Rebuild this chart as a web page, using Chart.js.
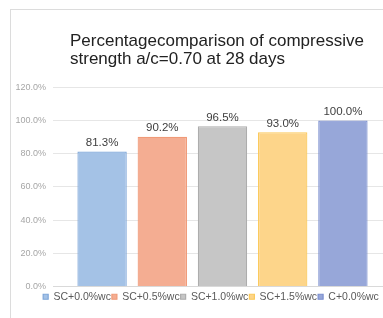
<!DOCTYPE html>
<html>
<head>
<meta charset="utf-8">
<script src="https://cdn.jsdelivr.net/npm/chart.js@4.4.1/dist/chart.umd.min.js"></script>
<style>
  html, body { margin: 0; padding: 0; background: #fff; overflow: hidden; }
  #wrap { position: relative; width: 392px; height: 318px; }
  #frame { position: absolute; left: 10px; top: 9px; right: 0; bottom: 0;
           border-top: 1px solid #dcdcdc; border-left: 1px solid #dcdcdc; }
  canvas { position: absolute; left: 0; top: 0; }
</style>
</head>
<body>
<div id="wrap">
  <div id="frame"></div>
  <canvas id="chart" width="392" height="318"></canvas>
</div>
<script>
// chart data
const seriesNames = ["SC+0.0%wc", "SC+0.5%wc", "SC+1.0%wc", "SC+1.5%wc", "C+0.0%wc"];
const seriesValues = [81.3, 90.2, 96.5, 93.0, 100.0];
const fillColors = ["#a4c2e6", "#f4ad92", "#c6c6c6", "#fdd58a", "#97a7d9"];
const edgeColors = ["#7ea6d9", "#f09a78", "#adadad", "#fbc95a", "#7b8fcf"];
const titleLines = ["Percentagecomparison of compressive", "strength a/c=0.70 at 28 days"];

// value labels above each bar
const barLabels = {
    id: "barLabels",
    afterDatasetsDraw(chart) {
        const ctx = chart.ctx;
        ctx.save();
        ctx.font = "11.5px 'Liberation Sans', Arial, sans-serif";
        ctx.fillStyle = "#404040";
        ctx.textAlign = "center";
        ctx.textBaseline = "bottom";
        chart.data.datasets.forEach((ds, i) => {
            const bar = chart.getDatasetMeta(i).data[0];
            ctx.fillText(ds.data[0].toFixed(1) + "%", bar.x, bar.y - 3);
        });
        ctx.restore();
    }
};

// title starts at x=70, legend sits a bit right of the canvas centre (excel layout)
const shiftBoxes = {
    id: "shiftBoxes",
    afterLayout(chart) {
        const t = chart.titleBlock, l = chart.legend;
        if (t) { t.left = 70; }
        if (l) { l.left += 15; l.right += 15; }
    }
};

const ctx = document.getElementById("chart").getContext("2d");

new Chart(ctx, {
    type: "bar",
    data: {
        labels: [""],
        datasets: seriesNames.map((name, i) => ({
            label: name,
            data: [seriesValues[i]],
            backgroundColor: fillColors[i],
            borderColor: edgeColors[i],
            borderWidth: 1.2
        }))
    },
    options: {
        responsive: false,
        animation: false,
        layout: { padding: { left: 0, right: 0, top: 32, bottom: 6 } },
        datasets: { bar: { categoryPercentage: 0.888, barPercentage: 0.82 } },
        plugins: {
            title: {
                display: true,
                align: "start",
                text: titleLines,
                color: "#222",
                font: { family: "'Liberation Sans', Arial, sans-serif", size: 17, weight: "normal", lineHeight: 1.07 },
                padding: { top: 0, bottom: 19 }
            },
            legend: {
                position: "bottom",
                labels: {
                    boxWidth: 5,
                    boxHeight: 5,
                    padding: 1,
                    color: "#595959",
                    font: { family: "'Liberation Sans', Arial, sans-serif", size: 10.5 }
                }
            },
            tooltip: { enabled: false }
        },
        scales: {
            x: {
                afterFit(scale) { scale.height = 4; },
                grid: { display: false, drawTicks: false },
                border: { color: "#d9d9d9" },
                ticks: { display: false }
            },
            y: {
                min: 0,
                max: 120,
                afterFit(scale) { scale.width = 53; },
                ticks: {
                    stepSize: 20,
                    color: "#a6a6a6",
                    font: { family: "'Liberation Sans', Arial, sans-serif", size: 9 },
                    padding: 7,
                    callback: v => v.toFixed(1) + "%"
                },
                grid: { color: "#e6e6e6", drawTicks: false },
                border: { display: false }
            }
        }
    },
    plugins: [barLabels, shiftBoxes]
});
</script>
</body>
</html>
